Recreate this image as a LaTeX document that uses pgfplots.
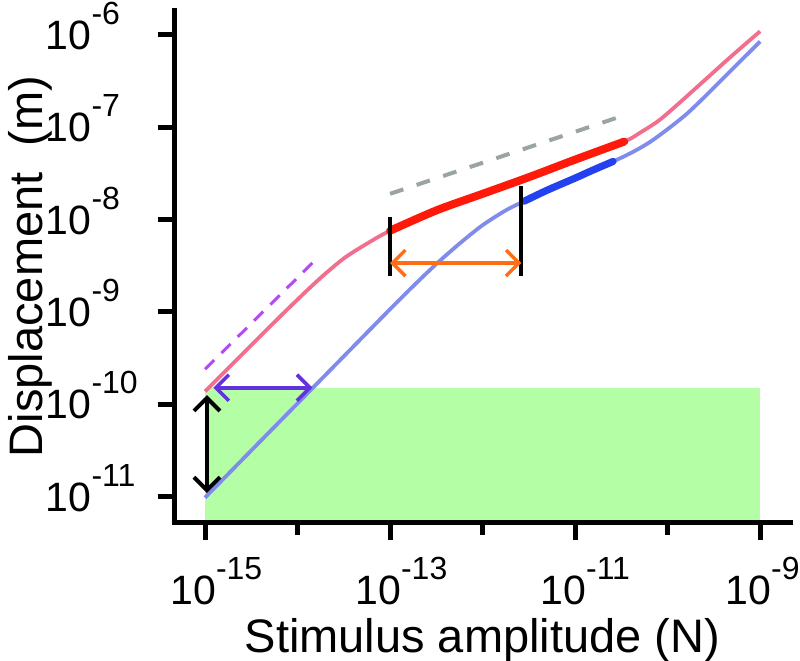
\documentclass[border=0pt]{standalone}
\usepackage{fontspec}
\setmainfont{Liberation Sans}
\usepackage{pgfplots}
\pgfplotsset{compat=1.18}
\usetikzlibrary{arrows.meta}

\definecolor{pinkc}{RGB}{242,110,142}
\definecolor{lblue}{RGB}{128,140,235}
\definecolor{redc}{RGB}{255,25,10}
\definecolor{bluec}{RGB}{35,65,240}
\definecolor{greenc}{RGB}{180,255,165}
\definecolor{purpd}{RGB}{180,75,240}
\definecolor{purpa}{RGB}{100,50,220}
\definecolor{orangec}{RGB}{255,110,20}
\definecolor{grayc}{RGB}{155,165,160}

\newcommand\tl[1]{\makebox[0pt][r]{\fontsize{20.5}{20.5}\selectfont 10}\makebox[0pt][l]{\raisebox{12.5pt}{\fontsize{16}{16}\selectfont #1}}}
\newcommand\xl[1]{\raisebox{-32.5pt}[0pt][0pt]{\tl{#1}}}
\newcommand\yl[1]{\raisebox{-7.3pt}[0pt][0pt]{\tl{#1}}}

\tikzset{dbl/.style={{Straight Barb[length=6.5pt,width=13pt]}-{Straight Barb[length=6.5pt,width=13pt]}}}

\begin{document}
\begin{tikzpicture}
\begin{axis}[
  name=ax,
  scale only axis,
  width=307.85pt, height=256pt,
  xmode=log, ymode=log,
  xmin=4.677e-16, xmax=2.113e-9,
  ymin=5.248e-12, ymax=1.841e-6,
  axis x line*=bottom, axis y line*=left,
  axis line style={line width=2.5pt, line cap=rect, black},
  axis on top,
  xtick={1e-15,1e-13,1e-11,1e-9},
  xticklabels={\xl{-15},\xl{-13},\xl{-11},\xl{-9}},
  minor xtick={1e-14,1e-12,1e-10},
  xminorticks=true, yminorticks=false,
  ytick={1e-11,1e-10,1e-9,1e-8,1e-7,1e-6},
  yticklabels={\yl{-11},\yl{-10},\yl{-9},\yl{-8},\yl{-7},\yl{-6}},
  tick align=outside,
  major tick length=8.5pt, minor tick length=6pt,
  tick style={line width=2.5pt, black},
  xticklabel style={anchor=center, inner sep=0pt, xshift=5.5pt},
  yticklabel style={anchor=center, inner sep=0pt, xshift=-33pt},
]
% green region
\addplot[fill=greenc, draw=none] coordinates {(1e-15,5.248e-12) (1e-9,5.248e-12) (1e-9,1.514e-10) (1e-15,1.514e-10)} -- cycle;

% dashed guide lines
\addplot[purpd, line width=1.5pt, dash pattern=on 6.5pt off 5pt] coordinates {(1e-15,2.399e-10) (1.698e-14,3.981e-9)};
\addplot[grayc, line width=2pt, dash pattern=on 7pt off 7pt] coordinates {(1e-13,1.905e-8) (3.162e-11,1.318e-7)};

% pink curve (whole)
\addplot[pinkc, line width=1.9pt, smooth, tension=0.5] coordinates {
(1e-15,1.380e-10) (1.778e-15,2.455e-10) (3.162e-15,4.365e-10) (5.623e-15,7.762e-10)
(1e-14,1.365e-9) (1.778e-14,2.344e-9) (3.162e-14,3.802e-9) (5.623e-14,5.495e-9)
(1e-13,7.586e-9) (3.162e-13,1.259e-8) (1e-12,1.905e-8) (3.162e-12,2.884e-8)
(1e-11,4.467e-8) (3.388e-11,6.998e-8) (5.012e-11,8.710e-8) (7.943e-11,1.175e-7)
(1.259e-10,1.738e-7) (2.512e-10,3.236e-7) (5.012e-10,6.026e-7) (1e-9,1.096e-6)};
% red highlighted part
\addplot[redc, line width=4pt, line cap=round, smooth, tension=0.5] coordinates {
(1e-13,7.586e-9) (3.162e-13,1.259e-8) (1e-12,1.905e-8) (3.162e-12,2.884e-8)
(1e-11,4.467e-8) (3.388e-11,6.998e-8)};

% blue curve (whole)
\addplot[lblue, line width=1.9pt, smooth, tension=0.5] coordinates {
(1e-15,9.772e-12) (3.162e-15,3.162e-11) (1e-14,1.023e-10) (3.162e-14,3.311e-10)
(1e-13,1.072e-9) (1.778e-13,1.905e-9) (3.162e-13,3.311e-9) (5.623e-13,5.495e-9)
(1e-12,8.710e-9) (1.778e-12,1.259e-8) (2.818e-12,1.585e-8) (5.012e-12,2.089e-8)
(1e-11,2.818e-8) (1.585e-11,3.467e-8) (2.570e-11,4.266e-8) (3.981e-11,5.248e-8)
(6.310e-11,6.839e-8) (1e-10,9.550e-8) (1.585e-10,1.380e-7) (2.512e-10,2.138e-7)
(5.012e-10,4.266e-7) (1e-9,8.511e-7)};
% blue highlighted part
\addplot[bluec, line width=3.6pt, line cap=round, smooth, tension=0.5] coordinates {
(2.818e-12,1.585e-8) (5.012e-12,2.089e-8) (1e-11,2.818e-8) (1.585e-11,3.467e-8) (2.570e-11,4.266e-8)};

% black bars
\addplot[black, line width=2pt] coordinates {(1e-13,1.072e-8) (1e-13,2.455e-9)};
\addplot[black, line width=2pt] coordinates {(2.63e-12,2.291e-8) (2.63e-12,2.455e-9)};

% arrows
\addplot[orangec, line width=1.7pt, dbl] coordinates {(1e-13,3.388e-9) (2.63e-12,3.388e-9)};
\addplot[purpa, line width=1.8pt, dbl] coordinates {(1.23e-15,1.514e-10) (1.45e-14,1.514e-10)};
\addplot[black, line width=2pt, dbl] coordinates {(1.05e-15,1.259e-10) (1.05e-15,1.096e-11)};
\end{axis}
\node[anchor=base, font=\fontsize{23.5}{23.5}\selectfont] at ([yshift=-64.75pt]ax.south) {Stimulus amplitude (N)};
\node[anchor=base, rotate=90, font=\fontsize{23.5}{23.5}\selectfont] at ([xshift=-65.75pt]ax.west) {Displacement\ \ (m)};
\pgfresetboundingbox
\path[use as bounding box] ([xshift=-87.25pt,yshift=-68.75pt]ax.south west) rectangle ([xshift=4.9pt,yshift=5.25pt]ax.north east);
\end{tikzpicture}
\end{document}
